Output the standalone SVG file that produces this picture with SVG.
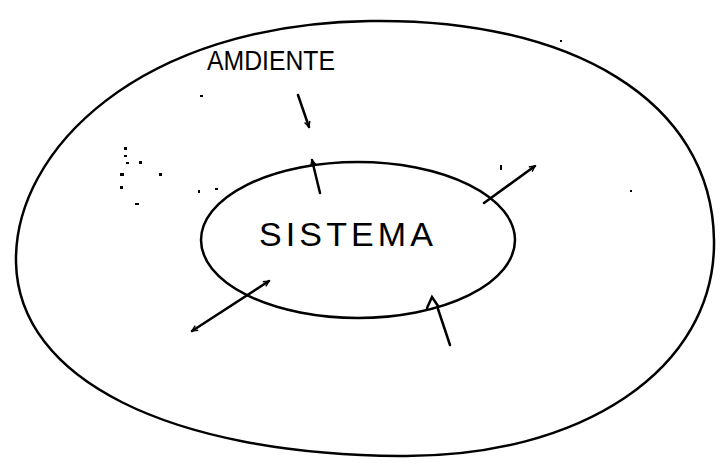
<svg xmlns="http://www.w3.org/2000/svg" width="720" height="468" viewBox="0 0 720 468">
<defs>
<marker id="ah" viewBox="0 0 10 10" refX="9" refY="5" markerWidth="7" markerHeight="7" orient="auto-start-reverse" markerUnits="userSpaceOnUse">
<path d="M1,1 L9,5 L1,9" fill="none" stroke="#000" stroke-width="2"/>
</marker>
</defs>
<style>
.ln{fill:none;stroke:#000;stroke-width:2.5;stroke-linecap:round}
.tx{font-family:"Liberation Sans",Arial,sans-serif;fill:#000}
.dot{fill:#000}
</style>
<rect width="720" height="468" fill="#fff"/>
<g id="ambiente">
<path class="ln" d="M370,21 C570,18 712,100 714,240 C716,370 580,458 400,456 C170,454 18,380 16,262 C14,150 140,24 370,21 Z"/>
<text class="tx" x="207" y="70" font-size="27" textLength="128" lengthAdjust="spacingAndGlyphs">AMDIENTE</text>
</g>
<g id="sistema">
<ellipse class="ln" cx="358" cy="240" rx="157" ry="78"/>
<text class="tx" x="259" y="246" font-size="34" textLength="174" lengthAdjust="spacing">SISTEMA</text>
</g>
<g id="connectors">
<line class="ln" x1="298" y1="95" x2="309" y2="127" marker-end="url(#ah)"/>
<line class="ln" x1="320" y1="193" x2="312" y2="160" marker-end="url(#ah)"/>
<line class="ln" x1="484" y1="203" x2="535" y2="166" marker-end="url(#ah)"/>
<line class="ln" x1="192" y1="331" x2="269" y2="281" marker-start="url(#ah)" marker-end="url(#ah)"/>
<line class="ln" x1="438" y1="309" x2="450" y2="345"/>
<path class="ln" d="M427,308 L432,297 L438,306"/>
</g>
<g id="specks">
<rect class="dot" x="124" y="147" width="3" height="3"/>
<rect class="dot" x="124" y="155" width="3" height="2"/>
<rect class="dot" x="126" y="162" width="3" height="2"/>
<rect class="dot" x="139" y="161" width="3" height="3"/>
<rect class="dot" x="120" y="173" width="4" height="3"/>
<rect class="dot" x="159" y="173" width="3" height="3"/>
<rect class="dot" x="120" y="186" width="3" height="3"/>
<rect class="dot" x="135" y="203" width="4" height="2"/>
<rect class="dot" x="198" y="190" width="2" height="3"/>
<rect class="dot" x="215" y="188" width="3" height="2"/>
<rect class="dot" x="500" y="165" width="2" height="5"/>
<rect class="dot" x="630" y="190" width="2" height="2"/>
<rect class="dot" x="560" y="40" width="2" height="2"/>
<rect class="dot" x="200" y="95" width="3" height="2"/>
</g>
</svg>
